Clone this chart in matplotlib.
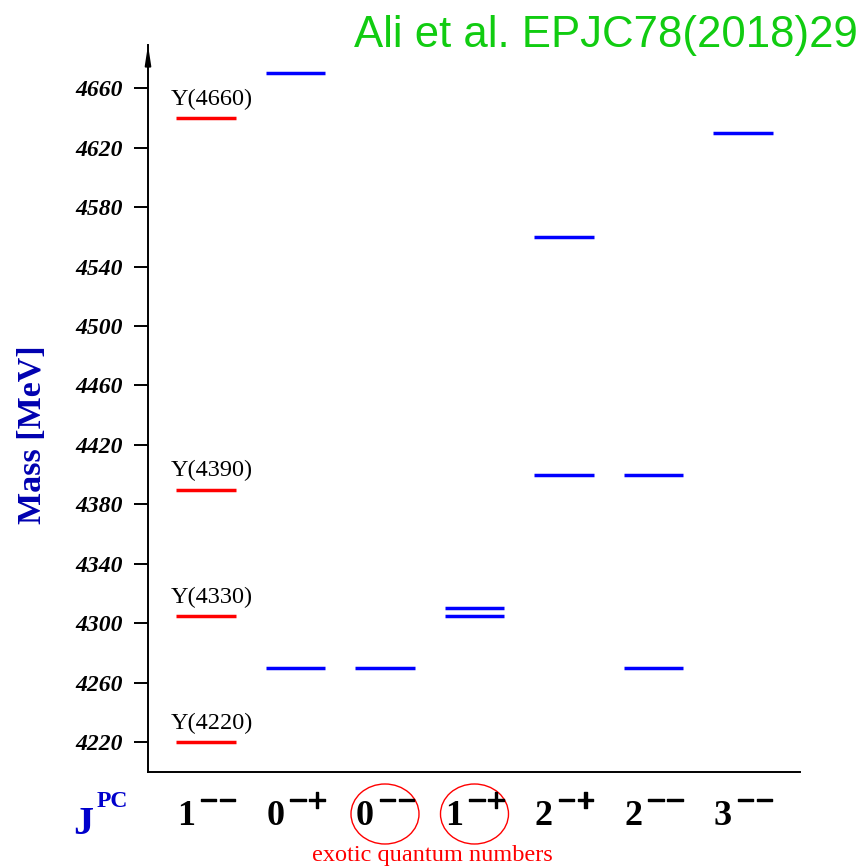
import numpy as np
import matplotlib
matplotlib.use('Agg')
import matplotlib.pyplot as plt
import matplotlib.patheffects as pe
from matplotlib.patches import Ellipse
from matplotlib.transforms import blended_transform_factory, offset_copy

# DATA
jpc_digit = ['1', '0', '0', '1', '2', '2', '3']
jpc_sup = ['\u2212\u2212', '\u2212+', '\u2212\u2212', '\u2212+', '\u2212+', '\u2212\u2212', '\u2212\u2212']
exotic_cols = [2, 3]

# masses per J^PC column [MeV]
masses = [
    [4640, 4390, 4305, 4220],   # 1--
    [4670, 4270],               # 0-+
    [4270],                     # 0--
    [4310, 4305],               # 1-+
    [4560, 4400],               # 2-+
    [4400, 4270],               # 2--
    [4630],                     # 3--
]
y_states = ['Y(4660)', 'Y(4390)', 'Y(4330)', 'Y(4220)']
yticks = np.arange(4220, 4661, 40)

W = 867
SERIF = 'Liberation Serif'


def px(x, y):
    return x / W, 1 - y / W


fig = plt.figure(figsize=(8.67, 8.67), dpi=100)
ax = fig.add_axes([148 / W, 95 / W, 652 / W, 727 / W])
ax.set_xlim(0.352, 7.637)
ax.set_ylim(4200, 4689)

for s in ['top', 'right']:
    ax.spines[s].set_visible(False)
for s in ['left', 'bottom']:
    ax.spines[s].set_linewidth(1.4)
ax.set_xticks([])
ax.set_yticks(yticks)
ax.set_yticklabels([str(v) for v in yticks], fontfamily=SERIF,
                   fontweight='bold', fontstyle='italic', fontsize=17)
ax.tick_params(axis='y', length=10, width=1.4, pad=8)

# arrow on top of y axis
ax.annotate('', xy=(0, 1.0), xytext=(0, 0.97), xycoords='axes fraction',
            arrowprops=dict(arrowstyle='-|>,head_length=1.1,head_width=0.17',
                            color='black', lw=1.4, shrinkA=0, shrinkB=0))

# levels
hw = 0.33
for i, ms in enumerate(masses):
    x = i + 1
    col = 'red' if i == 0 else 'blue'
    for m in ms:
        ax.hlines(m, x - hw, x + hw, color=col, lw=2.5)

# Y state labels
lab_tr = offset_copy(ax.transData, fig=fig, x=0, y=13, units='dots')
for m, name in zip(masses[0], y_states):
    ax.text(1 - 0.39, m, name, transform=lab_tr, fontfamily=SERIF,
            fontsize=17.5, ha='left', va='baseline')

fig.text(*px(33, 435), 'Mass [MeV]', fontfamily=SERIF, fontweight='bold',
         fontsize=24.5, color='#0000b0', rotation=90, ha='center', va='center')

# J^PC labels
thick = [pe.withStroke(linewidth=1.0, foreground='black')]
btr = blended_transform_factory(ax.transData, fig.transFigure)
for i, (d, s) in enumerate(zip(jpc_digit, jpc_sup)):
    x = i + 1
    tr_d = offset_copy(btr, fig=fig, x=-20, y=0, units='dots')
    tr_s = offset_copy(btr, fig=fig, x=-7, y=0, units='dots')
    ax.text(x, 1 - 825 / W, d, transform=tr_d, fontfamily=SERIF,
            fontweight='bold', fontsize=26, ha='center', va='baseline')
    ax.text(x, 1 - 811 / W, s, transform=tr_s, fontfamily=SERIF,
            fontweight='bold', fontsize=24, ha='left', va='baseline',
            path_effects=thick)

fig.text(*px(73, 834), 'J', fontfamily=SERIF, fontweight='bold',
         fontsize=29, color='#0000cc', ha='left', va='baseline')
fig.text(*px(97, 807), 'PC', fontfamily=SERIF, fontweight='bold',
         fontsize=17, color='#0000cc', ha='left', va='baseline')

# exotic circles
for i in exotic_cols:
    e = Ellipse((i + 1, 1 - 814 / W), width=68 / 652 * (7.637 - 0.352),
                height=60 / W, transform=btr, fill=False, edgecolor='red',
                lw=1.0, clip_on=False)
    ax.add_artist(e)

fig.text(*px(432, 861), 'exotic quantum numbers', fontfamily=SERIF,
         fontsize=17.5, color='red', ha='center', va='baseline')

fig.text(*px(858, 47), 'Ali et al. EPJC78(2018)29', fontfamily='Liberation Sans',
         fontsize=31.5, color='#11cc11', ha='right', va='baseline')

fig.savefig('out.png', dpi=100)
